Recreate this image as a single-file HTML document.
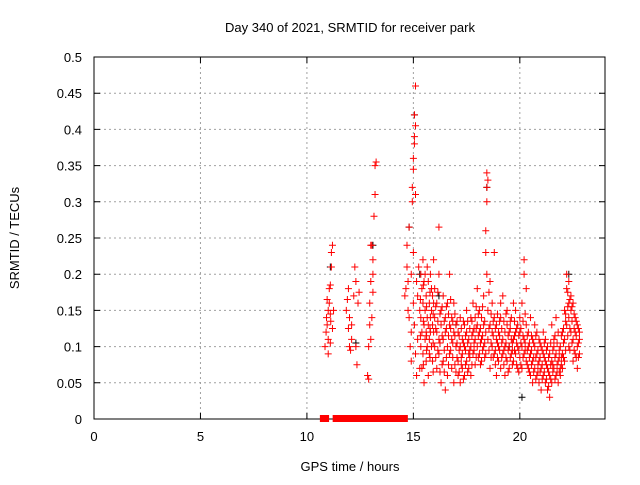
<!DOCTYPE html>
<html><head><meta charset="utf-8"><style>
body{margin:0;background:#fff;}
svg text{font-family:"Liberation Sans",sans-serif;font-size:13px;fill:#000;}
</style></head><body>
<svg id="chart" width="640" height="480">
<rect x="0" y="0" width="640" height="480" fill="#fff"/>
<g id="grid"></g>
<g id="axes"></g>
<g id="marks"></g>
<text x="350" y="32" text-anchor="middle">Day 340 of 2021, SRMTID for receiver park</text>
<text x="350" y="471" text-anchor="middle">GPS time / hours</text>
<text transform="translate(19,238) rotate(-90)" text-anchor="middle">SRMTID / TECUs</text>
</svg>
<script>
const xTicks = [0,5,10,15,20];
const yTicks = [0,0.05,0.1,0.15,0.2,0.25,0.3,0.35,0.4,0.45,0.5];
const yTickLabels = ["0","0.05","0.1","0.15","0.2","0.25","0.3","0.35","0.4","0.45","0.5"];
const redRows = [
[10.85,[0.10]],[10.9,[0.12]],[10.92,[0.14]],[10.95,[0.13,0.165]],[11.0,[0.15,0.11,0.09]],[11.05,[0.16,0.18]],[11.1,[0.185,0.145,0.105]],[11.12,[0.135]],[11.15,[0.21,0.23]],[11.2,[0.24,0.125]],[11.25,[0.15]],
[11.85,[0.15]],[11.9,[0.165]],[11.95,[0.18,0.125]],[12.0,[0.1,0.14]],[12.05,[0.095]],[12.1,[0.11,0.13]],[12.2,[0.17]],[12.25,[0.21]],[12.3,[0.19,0.1]],[12.35,[0.075]],[12.4,[0.16]],[12.45,[0.175]],
[12.85,[0.06]],[12.9,[0.055,0.1]],[12.95,[0.13,0.16]],[13.0,[0.19,0.24,0.11]],[13.05,[0.24,0.14]],[13.1,[0.2,0.22,0.175]],[13.15,[0.28]],[13.2,[0.31,0.35]],[13.25,[0.355]],
[14.6,[0.17]],[14.65,[0.18]],[14.7,[0.21,0.24]],[14.75,[0.15,0.19]],[14.8,[0.265,0.14]],[14.85,[0.1]],[14.9,[0.2,0.12,0.08]],[14.95,[0.3,0.32]],[15.0,[0.345,0.36,0.23,0.16]],[15.05,[0.38,0.39,0.42,0.13]],[15.1,[0.405,0.46,0.31,0.09]],[15.15,[0.06,0.19]],[15.2,[0.17,0.11]],[15.25,[0.21]],[15.3,[0.15,0.07]],
[15.35,[0.14,0.2,0.1]],[15.4,[0.18,0.12,0.07]],[15.45,[0.16,0.09,0.22]],[15.5,[0.13,0.19,0.05]],[15.55,[0.15,0.11,0.2]],[15.6,[0.17,0.08,0.12]],[15.65,[0.14,0.21,0.1]],[15.7,[0.19,0.13,0.06]],[15.75,[0.16,0.11,0.09]],[15.8,[0.2,0.14,0.12]],[15.85,[0.18,0.1,0.15]],[15.9,[0.13,0.17,0.08]],[15.95,[0.16,0.12,0.22]],
[16.0,[0.14,0.1,0.18]],[16.1,[0.12,0.16,0.07]],[16.2,[0.265,0.2,0.11,0.09]],[16.3,[0.13,0.15,0.05]],[16.4,[0.17,0.11,0.08]],[16.5,[0.12,0.14,0.04]],[16.6,[0.1,0.16,0.06]],[16.7,[0.13,0.09,0.2]],[16.8,[0.11,0.07,0.14]],[16.9,[0.12,0.16,0.05]],[17.0,[0.1,0.065,0.13]],
[17.1,[0.06,0.08,0.12]],[17.2,[0.05,0.1,0.14]],[17.3,[0.07,0.11,0.09]],[17.4,[0.06,0.13,0.1]],[17.5,[0.08,0.12,0.15]],[17.6,[0.09,0.11,0.07]],[17.7,[0.1,0.14,0.06]],[17.8,[0.12,0.09,0.16]],[17.9,[0.11,0.075,0.14]],[18.0,[0.1,0.18,0.13]],
[18.1,[0.09,0.12,0.15]],[18.2,[0.11,0.08,0.14]],[18.3,[0.13,0.17,0.1]],[18.4,[0.26,0.23,0.12,0.09]],[18.45,[0.32,0.34,0.3,0.2]],[18.5,[0.33,0.15,0.11]],[18.6,[0.19,0.13,0.07]],[18.7,[0.12,0.1,0.16]],[18.8,[0.23,0.14,0.09]],[18.9,[0.11,0.13,0.06]],
[19.0,[0.08,0.12,0.1]],[19.1,[0.07,0.14,0.16]],[19.2,[0.09,0.17,0.11]],[19.3,[0.06,0.12,0.1]],[19.4,[0.08,0.13,0.15]],[19.5,[0.1,0.07,0.12]],[19.6,[0.09,0.14,0.11]],[19.7,[0.11,0.16,0.08]],[19.8,[0.12,0.09,0.15]],[19.9,[0.1,0.13,0.07]],[20.0,[0.085,0.12,0.14]],
[20.1,[0.1,0.16,0.07]],[20.2,[0.22,0.2,0.11,0.09]],[20.3,[0.18,0.13,0.08]],[20.4,[0.1,0.07,0.12]],[20.5,[0.09,0.06,0.14]],[20.6,[0.11,0.08,0.05]],[20.7,[0.1,0.13,0.07]],[20.8,[0.06,0.09,0.12]],[20.9,[0.08,0.05,0.11]],[21.0,[0.07,0.1,0.04]],
[21.1,[0.09,0.06,0.12]],[21.2,[0.05,0.08,0.11]],[21.3,[0.07,0.04,0.1]],[21.4,[0.03,0.06,0.09]],[21.5,[0.08,0.05,0.13]],[21.6,[0.07,0.11,0.1]],[21.7,[0.06,0.09,0.14]],[21.8,[0.08,0.05,0.12]],[21.9,[0.07,0.1,0.06]],[22.0,[0.09,0.12,0.07]],
[22.1,[0.11,0.08,0.15]],[22.2,[0.2,0.18,0.13]],[22.3,[0.19,0.16,0.14,0.1]],[22.4,[0.17,0.15,0.12]],[22.5,[0.16,0.11,0.08]],[22.6,[0.14,0.12,0.09]],[22.7,[0.13,0.1,0.07]],[22.8,[0.12,0.09,0.11]]
];
const redRowsExtra = [
[15.33,[0.165,0.115]],[15.47,[0.135,0.185,0.075]],[15.62,[0.155,0.095,0.115]],[15.78,[0.125,0.175,0.085]],[15.93,[0.145,0.105,0.065]],
[16.05,[0.125,0.155,0.085]],[16.15,[0.175,0.135,0.095]],[16.25,[0.105,0.145,0.065]],[16.35,[0.115,0.155,0.075]],[16.45,[0.135,0.095,0.065]],[16.55,[0.085,0.125,0.155]],[16.65,[0.115,0.075,0.145]],[16.75,[0.095,0.125,0.165]],[16.85,[0.085,0.135,0.105]],[16.95,[0.075,0.115,0.145]],
[17.05,[0.085,0.105,0.135]],[17.15,[0.065,0.095,0.115]],[17.25,[0.075,0.085,0.125]],[17.35,[0.055,0.105,0.135]],[17.45,[0.095,0.075,0.115]],[17.55,[0.065,0.105,0.135]],[17.65,[0.085,0.125,0.095]],[17.75,[0.115,0.075,0.135]],[17.85,[0.095,0.105,0.125]],[17.95,[0.085,0.125,0.155]],
[18.05,[0.115,0.085,0.145]],[18.15,[0.105,0.125,0.075]],[18.25,[0.095,0.115,0.155]],[18.35,[0.085,0.135,0.105]],[18.55,[0.125,0.095,0.175]],[18.65,[0.105,0.085,0.145]],[18.75,[0.135,0.085,0.115]],[18.85,[0.095,0.125,0.075]],[18.95,[0.105,0.145,0.085]],
[19.05,[0.095,0.115,0.135]],[19.15,[0.085,0.105,0.125]],[19.25,[0.075,0.135,0.095]],[19.35,[0.105,0.085,0.145]],[19.45,[0.115,0.095,0.065]],[19.55,[0.085,0.125,0.135]],[19.65,[0.075,0.105,0.095]],[19.75,[0.095,0.135,0.115]],[19.85,[0.105,0.075,0.125]],[19.95,[0.095,0.115,0.065]],
[20.05,[0.105,0.125,0.075]],[20.15,[0.085,0.115,0.135]],[20.25,[0.105,0.095,0.145]],[20.35,[0.075,0.115,0.095]],[20.45,[0.085,0.105,0.065]],[20.55,[0.075,0.095,0.115]],[20.65,[0.065,0.085,0.105]],[20.75,[0.085,0.055,0.115]],[20.85,[0.075,0.095,0.065]],[20.95,[0.065,0.085,0.105]],
[21.05,[0.075,0.055,0.095]],[21.15,[0.065,0.085,0.105]],[21.25,[0.055,0.075,0.095]],[21.35,[0.045,0.085,0.065]],[21.45,[0.055,0.075,0.105]],[21.55,[0.065,0.095,0.075]],[21.65,[0.085,0.055,0.115]],[21.75,[0.075,0.105,0.065]],[21.85,[0.095,0.065,0.085]],[21.95,[0.085,0.115,0.075]],
[22.05,[0.105,0.085,0.125]],[22.15,[0.135,0.095,0.145]],[22.25,[0.175,0.155,0.115]],[22.35,[0.165,0.125,0.095]],[22.45,[0.155,0.135,0.105]],[22.55,[0.125,0.095,0.145]],[22.65,[0.115,0.085,0.135]],[22.75,[0.105,0.125,0.085]]
];
const blackRows = [[11.1,[0.21]],[12.3,[0.105]],[13.1,[0.24]],[14.8,[0.265]],[15.05,[0.42]],[15.3,[0.2]],[16.2,[0.17]],[17.0,[0.13]],[18.45,[0.32]],[19.5,[0.1]],[20.1,[0.03]],[22.3,[0.2]]];
const zeroHours = [10.75,10.8,10.85,10.9,11.35,11.4,11.45,11.5,11.55,11.6,11.65,11.7,11.75,11.8,11.85,11.9,11.95,12.0,12.05,12.2,12.25,12.3,12.35,12.4,12.55,12.7,12.75,12.8,12.85,12.9,13.15,13.2,13.25,13.3,13.35,13.5,13.55,13.6,13.65,13.8,13.85,13.9,13.95,14.0,14.05,14.1,14.15,14.2,14.25,14.3,14.35,14.4,14.45,14.5,14.55,14.6];

const X0=94,X1=605,Y0=419,Y1=57,XMAX=24,YMAX=0.5;
const xs=h=>X0+(X1-X0)*h/XMAX;
const ys=v=>Y0-(Y0-Y1)*v/YMAX;
const NS="http://www.w3.org/2000/svg";
function mk(tag,attrs,parent){const e=document.createElementNS(NS,tag);for(const k in attrs)e.setAttribute(k,attrs[k]);parent.appendChild(e);return e;}
const grid=document.getElementById('grid'),axes=document.getElementById('axes'),marks=document.getElementById('marks');
yTicks.forEach((t,i)=>{const y=ys(t);
 if(i>0&&i<yTicks.length-1){const g=mk('line',{x1:X0,x2:X1,y1:y,y2:y,stroke:'#a0a0a0','stroke-dasharray':'2,3'},grid);}
 const tk=mk('path',{d:`M${X0} ${y}h6M${X1} ${y}h-6`,stroke:'#000'},axes);
 const tl=mk('text',{x:X0-12,y:y+5,'text-anchor':'end'},axes);tl.textContent=yTickLabels[i];
});
xTicks.forEach(t=>{const x=xs(t);
 if(t>0){const g=mk('line',{x1:x,x2:x,y1:Y0,y2:Y1,stroke:'#a0a0a0','stroke-dasharray':'2,3'},grid);}
 const tk=mk('path',{d:`M${x} ${Y0}v-6M${x} ${Y1}v6`,stroke:'#000'},axes);
 const tl=mk('text',{x:x,y:Y0+22,'text-anchor':'middle'},axes);tl.textContent=String(t);
});
const box=mk('rect',{x:X0,y:Y1,width:X1-X0,height:Y0-Y1,fill:'none',stroke:'#000'},axes);

function plus(h,v,color){const x=xs(h),y=ys(v);
 const p=mk('path',{d:`M${x-3.5} ${y}h7M${x} ${y-3.5}v7`,stroke:color,'stroke-width':1},marks);
 }
blackRows.forEach(r=>r[1].forEach(v=>plus(r[0],v,'#000')));
redRows.forEach(r=>r[1].forEach(v=>plus(r[0],v,'#f00')));
redRowsExtra.forEach(r=>r[1].forEach(v=>plus(r[0],v,'#f00')));
zeroHours.forEach(h=>{const x=xs(h),y=ys(0);
 const p=mk('rect',{x:x-3,y:y-4,width:6,height:7,fill:'#f00'},marks);
 });
</script>
</body></html>
